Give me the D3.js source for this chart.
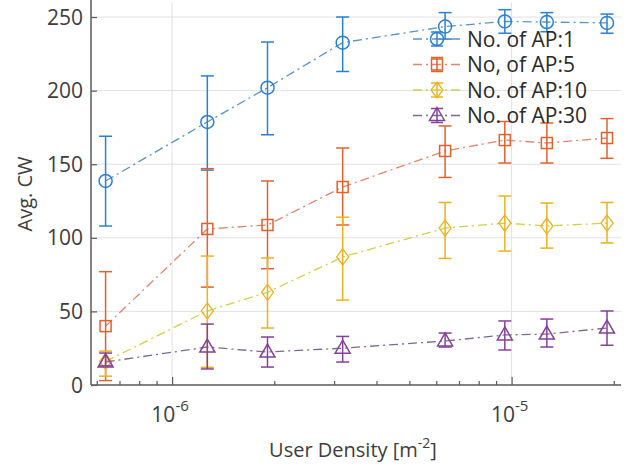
<!DOCTYPE html>
<html>
<head>
<meta charset="utf-8">
<script src="https://cdn.jsdelivr.net/npm/d3@7"></script>
<style>
  html, body { margin: 0; padding: 0; background: #ffffff; }
  svg { display: block; font-family: "Open Sans", "Noto Sans", sans-serif; }
</style>
</head>
<body>
<svg id="chart" width="627" height="464"></svg>
<script>
// ---- data ----
const density = [6.37e-7, 1.27e-6, 1.91e-6, 3.18e-6, 6.37e-6, 9.55e-6, 1.27e-5, 1.91e-5];
const seriesNames = ["No. of AP:1", "No, of AP:5", "No. of AP:10", "No. of AP:30"];

const ap1Mean  = [138.6, 178.7, 202.0, 232.6, 243.5, 247.0, 246.6, 246.0];
const ap1Lower = [108.0, 146.0, 170.0, 213.0, 235.0, 239.0, 240.0, 239.0];
const ap1Upper = [169.0, 210.0, 233.0, 250.0, 253.0, 255.0, 253.0, 252.0];

const ap5Mean  = [40.0, 106.0, 108.7, 134.5, 159.0, 166.4, 164.4, 167.8];
const ap5Lower = [3.0, 66.5, 79.0, 108.7, 141.0, 150.8, 150.8, 154.0];
const ap5Upper = [77.0, 147.0, 138.6, 161.0, 176.0, 179.0, 178.0, 181.0];

const ap10Mean  = [16.0, 50.3, 63.0, 87.0, 106.6, 110.0, 108.0, 110.0];
const ap10Lower = [6.0, 12.0, 38.7, 57.7, 86.0, 91.0, 93.0, 96.5];
const ap10Upper = [23.0, 87.6, 86.3, 114.0, 124.0, 128.4, 123.6, 124.0];

const ap30Mean  = [15.6, 25.8, 22.4, 25.0, 29.9, 34.0, 34.6, 38.7];
const ap30Lower = [13.0, 10.9, 12.2, 15.6, 25.8, 23.8, 25.8, 27.0];
const ap30Upper = [21.7, 41.4, 32.6, 33.0, 35.3, 43.5, 44.8, 50.3];

const yTicks = [0, 50, 100, 150, 200, 250];
const xMajorTicks = [1e-6, 1e-5];
const xMajorExp = ["-6", "-5"];

// ---- styles ----
const markColors = ["#2a80d2", "#e2612c", "#ecb21e", "#85409a"];
const lineColors = ["#5b93c6", "#e2846f", "#cdd24a", "#7a6b8e"];
const markerTypes = ["circle", "square", "diamond", "triangle"];

const series = [
  {mean: ap1Mean, lo: ap1Lower, hi: ap1Upper},
  {mean: ap5Mean, lo: ap5Lower, hi: ap5Upper},
  {mean: ap10Mean, lo: ap10Lower, hi: ap10Upper},
  {mean: ap30Mean, lo: ap30Lower, hi: ap30Upper}
];

const svg = d3.select("#chart");
const L = 91, R = 621, T = 2.3, B = 385;
const x = d3.scaleLog().domain([5.77e-7, 2.1e-5]).range([L, R]);
const y = d3.scaleLinear().domain([0, 260]).range([B, T]);

const textColor = "#3d3d3d";
const axisColor = "#5a5a5a";

// grid
const grid = svg.append("g");
grid.selectAll("line.h").data(yTicks.filter(d => d > 0)).enter().append("line")
  .attr("x1", L).attr("x2", R).attr("y1", d => y(d)).attr("y2", d => y(d))
  .attr("stroke", "#e2e2e2").attr("stroke-width", 1);
grid.selectAll("line.v").data(xMajorTicks).enter().append("line")
  .attr("x1", d => x(d)).attr("x2", d => x(d)).attr("y1", T).attr("y2", B)
  .attr("stroke", "#e2e2e2").attr("stroke-width", 1);

// axes (inward ticks)
const yAxis = d3.axisRight(y).tickValues(yTicks).tickSize(6).tickFormat("");
svg.append("g").attr("transform", `translate(${L},0)`).call(yAxis)
  .call(g => g.select(".domain").remove())
  .call(g => g.selectAll("line").attr("stroke", axisColor).attr("stroke-width", 1.2));

const minorTicks = x.ticks().filter(d => xMajorTicks.indexOf(d) < 0);
const xMinor = d3.axisTop(x).tickValues(minorTicks).tickSize(4).tickFormat("");
svg.append("g").attr("transform", `translate(0,${B})`).call(xMinor)
  .call(g => g.select(".domain").remove())
  .call(g => g.selectAll("line").attr("stroke", axisColor).attr("stroke-width", 1.2));
const xMajor = d3.axisTop(x).tickValues(xMajorTicks).tickSize(8).tickFormat("");
svg.append("g").attr("transform", `translate(0,${B})`).call(xMajor)
  .call(g => g.select(".domain").remove())
  .call(g => g.selectAll("line").attr("stroke", axisColor).attr("stroke-width", 1.2));

svg.append("line").attr("x1", L).attr("x2", L).attr("y1", 0).attr("y2", B)
  .attr("stroke", axisColor).attr("stroke-width", 1.5);
svg.append("line").attr("x1", L).attr("x2", R).attr("y1", B).attr("y2", B)
  .attr("stroke", axisColor).attr("stroke-width", 1.5);

// y tick labels
svg.append("g").selectAll("text").data(yTicks).enter().append("text")
  .attr("x", 83).attr("y", d => y(d)).attr("dy", "0.36em")
  .attr("text-anchor", "end").attr("font-size", 21).attr("fill", textColor)
  .text(d => d);

// x tick labels
xMajorTicks.forEach((t, i) => {
  const tx = svg.append("text").attr("x", x(t) - 2).attr("y", 422)
    .attr("text-anchor", "middle").attr("font-size", 21).attr("fill", textColor);
  tx.append("tspan").text("10");
  tx.append("tspan").attr("dy", -11).attr("font-size", 15).text(xMajorExp[i]);
});

// axis titles
const xt = svg.append("text").attr("x", 353).attr("y", 457)
  .attr("text-anchor", "middle").attr("font-size", 20).attr("fill", textColor);
xt.append("tspan").text("User Density [m");
xt.append("tspan").attr("dy", -9).attr("font-size", 14).text("-2");
xt.append("tspan").attr("dy", 9).text("]");

svg.append("text").attr("transform", "translate(32,194) rotate(-90)")
  .attr("text-anchor", "middle").attr("font-size", 20).attr("fill", textColor)
  .text("Avg. CW");

// marker drawing
function drawMarker(g, type, cx, cy, color) {
  const s = 6.5;
  if (type === "circle") {
    g.append("circle").attr("cx", cx).attr("cy", cy).attr("r", s)
      .attr("fill", "none").attr("stroke", color).attr("stroke-width", 1.5);
  } else if (type === "square") {
    g.append("rect").attr("x", cx - 5.5).attr("y", cy - 5.5).attr("width", 11).attr("height", 11)
      .attr("fill", "none").attr("stroke", color).attr("stroke-width", 1.5);
  } else if (type === "diamond") {
    g.append("path").attr("d", `M${cx},${cy - 8}L${cx + 6},${cy}L${cx},${cy + 8}L${cx - 6},${cy}Z`)
      .attr("fill", "none").attr("stroke", color).attr("stroke-width", 1.3);
  } else {
    g.append("path").attr("d", `M${cx},${cy - 8}L${cx + 7.5},${cy + 5}L${cx - 7.5},${cy + 5}Z`)
      .attr("fill", "none").attr("stroke", color).attr("stroke-width", 1.5);
  }
}

// series
const line = d3.line().x(d => x(d.x)).y(d => y(d.y));
series.forEach((s, k) => {
  const pts = density.map((d, i) => ({x: d, y: s.mean[i], lo: s.lo[i], hi: s.hi[i]}));
  const g = svg.append("g");
  g.append("path").datum(pts).attr("d", line).attr("fill", "none")
    .attr("stroke", lineColors[k]).attr("stroke-width", 1.3)
    .attr("stroke-dasharray", "9,4,2,4");
  pts.forEach(p => {
    const px = x(p.x);
    g.append("line").attr("x1", px).attr("x2", px).attr("y1", y(p.lo)).attr("y2", y(p.hi))
      .attr("stroke", markColors[k]).attr("stroke-width", 1.5);
    [p.lo, p.hi].forEach(v => {
      g.append("line").attr("x1", px - 6.5).attr("x2", px + 6.5).attr("y1", y(v)).attr("y2", y(v))
        .attr("stroke", markColors[k]).attr("stroke-width", 1.5);
    });
    drawMarker(g, markerTypes[k], px, y(p.y), markColors[k]);
  });
});

// legend
const legY = [39, 64.5, 90, 115.5];
const lg = svg.append("g");
seriesNames.forEach((name, k) => {
  const ly = legY[k];
  lg.append("line").attr("x1", 413).attr("x2", 462).attr("y1", ly).attr("y2", ly)
    .attr("stroke", lineColors[k]).attr("stroke-width", 1.3).attr("stroke-dasharray", "9,4,2,4");
  lg.append("line").attr("x1", 437).attr("x2", 437).attr("y1", ly - 7).attr("y2", ly + 7)
    .attr("stroke", markColors[k]).attr("stroke-width", 1.5);
  [ly - 7, ly + 7].forEach(v => {
    lg.append("line").attr("x1", 431).attr("x2", 443).attr("y1", v).attr("y2", v)
      .attr("stroke", markColors[k]).attr("stroke-width", 1.5);
  });
  drawMarker(lg, markerTypes[k], 437, ly, markColors[k]);
  lg.append("text").attr("x", 467).attr("y", ly).attr("dy", "0.36em")
    .attr("font-size", 21).attr("fill", "#2a2a2a").text(name);
});
</script>
</body>
</html>
